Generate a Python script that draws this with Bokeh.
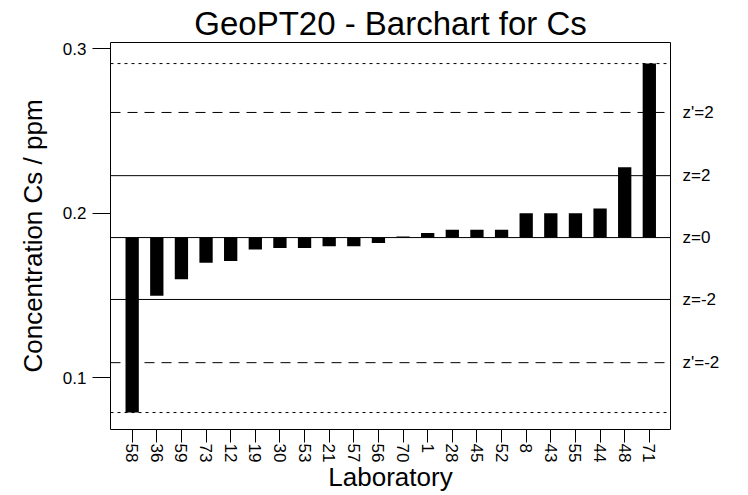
from bokeh.plotting import figure
from bokeh.models import FixedTicker, LinearAxis, Range1d, Span
from bokeh.embed import file_html
from bokeh.resources import INLINE

# ---- data ----
labs = ["58", "36", "59", "73", "12", "19", "30", "53", "21", "57", "56",
        "70", "1", "28", "45", "52", "8", "43", "55", "44", "48", "71"]
values = [0.079, 0.150, 0.160, 0.170, 0.171, 0.178, 0.179, 0.179, 0.180, 0.180, 0.182,
          0.186, 0.188, 0.190, 0.190, 0.190, 0.200, 0.200, 0.200, 0.203, 0.228, 0.291]
assigned = 0.1853
z_lines = [0.2613, 0.2229, 0.1853, 0.1477, 0.1093]
z_labels = ["z'=2", "z=2", "z=0", "z=-2", "z'=-2"]
z_dash = ["10 7", "solid", "solid", "solid", "10 7"]
y_ticks = [0.1, 0.2, 0.3]
title_text = "GeoPT20 - Barchart for Cs"
FONT = "Liberation Sans"

n = len(labs)
xs = list(range(n))

p = figure(
    width=740, height=495,
    x_range=Range1d(-0.88, 21.86), y_range=Range1d(0.0687, 0.3038),
    output_backend="svg", toolbar_location=None,
    min_border_left=110, min_border_top=42, min_border_right=70, min_border_bottom=65,
    background_fill_color="white", border_fill_color="white",
    title=title_text,
)
p.outline_line_color = "black"
p.outline_line_width = 1
p.xgrid.visible = False
p.ygrid.visible = False

p.title.align = "center"
p.title.text_font = FONT
p.title.text_font_size = "33px"
p.title.text_font_style = "normal"
p.title.text_color = "black"
p.title.standoff = 1

# reference lines
for v, d in zip(z_lines, z_dash):
    p.add_layout(Span(location=v, dimension="width", line_color="black",
                      line_width=1, line_dash=d))
for v in (min(values), max(values)):
    p.add_layout(Span(location=v, dimension="width", line_color="black",
                      line_width=1, line_dash="3 4"))

# bars from assigned value
p.vbar(x=xs, top=values, bottom=assigned, width=0.54, fill_color="black", line_color=None)

# x axis
xa = p.xaxis[0]
xa.ticker = FixedTicker(ticks=xs)
xa.major_label_overrides = {i: l for i, l in zip(xs, labs)}
xa.major_label_orientation = "vertical"
xa.major_label_text_font = FONT
xa.major_label_text_font_size = "17px"
xa.major_label_text_color = "black"
xa.major_tick_out = 13
xa.major_tick_in = 0
xa.minor_tick_out = 0
xa.minor_tick_in = 0
xa.major_label_standoff = 1
xa.axis_line_color = None
xa.major_tick_line_color = "black"
xa.axis_label = "Laboratory"
xa.axis_label_text_font = FONT
xa.axis_label_text_font_size = "26px"
xa.axis_label_text_font_style = "normal"
xa.axis_label_text_color = "black"
xa.axis_label_standoff = -3

# y axis
ya = p.yaxis[0]
ya.ticker = FixedTicker(ticks=y_ticks)
ya.major_label_text_font = FONT
ya.major_label_text_font_size = "17px"
ya.major_label_text_color = "black"
ya.major_tick_out = 18
ya.major_tick_in = 0
ya.minor_tick_out = 0
ya.minor_tick_in = 0
ya.major_label_standoff = 6
ya.axis_line_color = None
ya.major_tick_line_color = "black"
ya.axis_label = "Concentration Cs / ppm"
ya.axis_label_text_font = FONT
ya.axis_label_text_font_size = "26px"
ya.axis_label_text_font_style = "normal"
ya.axis_label_text_color = "black"
ya.axis_label_standoff = 12

# right axis with z labels
ra = LinearAxis(ticker=FixedTicker(ticks=z_lines),
                major_label_overrides={v: t for v, t in zip(z_lines, z_labels)})
ra.axis_line_color = None
ra.major_tick_line_color = None
ra.minor_tick_line_color = None
ra.major_tick_out = 0
ra.major_tick_in = 0
ra.major_label_standoff = 12
ra.major_label_text_font = FONT
ra.major_label_text_font_size = "17px"
ra.major_label_text_color = "black"
p.add_layout(ra, "right")

open("out.html", "w").write(file_html(p, INLINE))
